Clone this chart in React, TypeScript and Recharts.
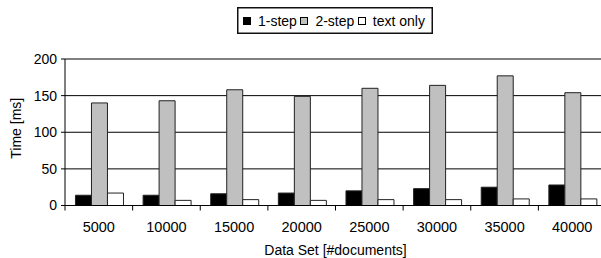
import React from 'react';
import { BarChart, Bar, XAxis, YAxis, CartesianGrid, Label } from 'recharts';

const categories = ['5000', '10000', '15000', '20000', '25000', '30000', '35000', '40000'];
const oneStep = [14, 14, 16, 17, 20, 23, 25, 28];
const twoStep = [140, 143, 158, 149, 160, 164, 177, 154];
const textOnly = [17, 7, 8, 7, 8, 8, 9, 9];
const yTicks = [0, 50, 100, 150, 200];

const seriesNames = ['1-step', '2-step', 'text only'];
const seriesColors = ['#000000', '#c0c0c0', '#ffffff'];

const data = categories.map((c, i) => ({
  name: c,
  s1: oneStep[i],
  s2: twoStep[i],
  s3: textOnly[i],
}));

const FONT = '"Liberation Sans", Arial, sans-serif';

const XTick = (props: any) => {
  const { x, y, payload } = props;
  const off = payload && typeof payload.offset === 'number' ? payload.offset : 33.8;
  return (
    <g>
      <line x1={x - off} x2={x - off} y1={y} y2={y + 5} stroke="#000" strokeWidth={1} />
      <text x={x} y={y + 26} textAnchor="middle" fontFamily={FONT} fontSize={14.5} fill="#000">
        {payload.value}
      </text>
    </g>
  );
};

const LegendBox = () => (
  <div style={{ position: 'absolute', left: 237, top: 7, width: 196, height: 27, zIndex: 5 }}>
    <svg width={196} height={27} style={{ position: 'absolute', left: 0, top: 0 }}>
      <rect x={0.75} y={0.75} width={194.5} height={25.5} fill="#ffffff" stroke="#111111" strokeWidth={1.5} />
    </svg>
    <div
      style={{
        position: 'absolute',
        left: 0,
        top: 0,
        width: 196,
        height: 27,
        display: 'flex',
        alignItems: 'center',
        paddingLeft: 6,
        boxSizing: 'border-box',
        fontFamily: FONT,
        fontSize: 14,
        color: '#000',
        whiteSpace: 'nowrap',
      }}
    >
      {seriesNames.map((name, i) => (
        <span key={i} style={{ display: 'flex', alignItems: 'center', marginRight: 3.5 }}>
          <svg width={8} height={8} style={{ marginRight: 7, display: 'block' }}>
            <rect x={0.5} y={0.5} width={7} height={7} fill={seriesColors[i]} stroke="#000" strokeWidth={1} />
          </svg>
          <span>{name}</span>
        </span>
      ))}
    </div>
  </div>
);

export default function App() {
  return (
    <div
      style={{
        position: 'absolute',
        left: 0,
        top: 0,
        width: 601,
        height: 258,
        overflow: 'hidden',
        background: '#fff',
      }}
    >
      <BarChart
        width={620}
        height={258}
        data={data}
        margin={{ top: 59, right: 14, left: 8, bottom: 22.5 }}
        barCategoryGap="15.5%"
        barGap={0}
      >
        <CartesianGrid vertical={false} stroke="#000" strokeWidth={1} />
        <XAxis
          dataKey="name"
          height={30}
          tickLine={false}
          tickSize={0}
          tickMargin={0}
          axisLine={{ stroke: '#000' }}
          tick={<XTick />}
          interval={0}
        >
          <Label
            content={(p: any) => {
              const vb = p.viewBox || {};
              return (
                <text
                  x={vb.x + vb.width / 2}
                  y={vb.y + 49.5}
                  textAnchor="middle"
                  fontFamily={FONT}
                  fontSize={14}
                  fill="#000"
                >
                  Data Set [#documents]
                </text>
              );
            }}
          />
        </XAxis>
        <YAxis
          width={57}
          domain={[0, 200]}
          ticks={yTicks}
          interval={0}
          tickSize={4}
          tickMargin={4}
          tickLine={{ stroke: '#000' }}
          axisLine={{ stroke: '#000' }}
          tick={{ fontFamily: FONT, fontSize: 14, fill: '#000' }}
        >
          <Label
            content={(p: any) => {
              const vb = p.viewBox || {};
              const cy = vb.y + vb.height / 2 - 4;
              return (
                <text
                  x={21}
                  y={cy}
                  transform={`rotate(-90, 21, ${cy})`}
                  textAnchor="middle"
                  fontFamily={FONT}
                  fontSize={14}
                  fill="#000"
                >
                  Time [ms]
                </text>
              );
            }}
          />
        </YAxis>
        <Bar dataKey="s1" name={seriesNames[0]} fill={seriesColors[0]} stroke="#222" strokeWidth={1} isAnimationActive={false} />
        <Bar dataKey="s2" name={seriesNames[1]} fill={seriesColors[1]} stroke="#222" strokeWidth={1} isAnimationActive={false} />
        <Bar dataKey="s3" name={seriesNames[2]} fill={seriesColors[2]} stroke="#222" strokeWidth={1} isAnimationActive={false} />
      </BarChart>
      <LegendBox />
    </div>
  );
}
